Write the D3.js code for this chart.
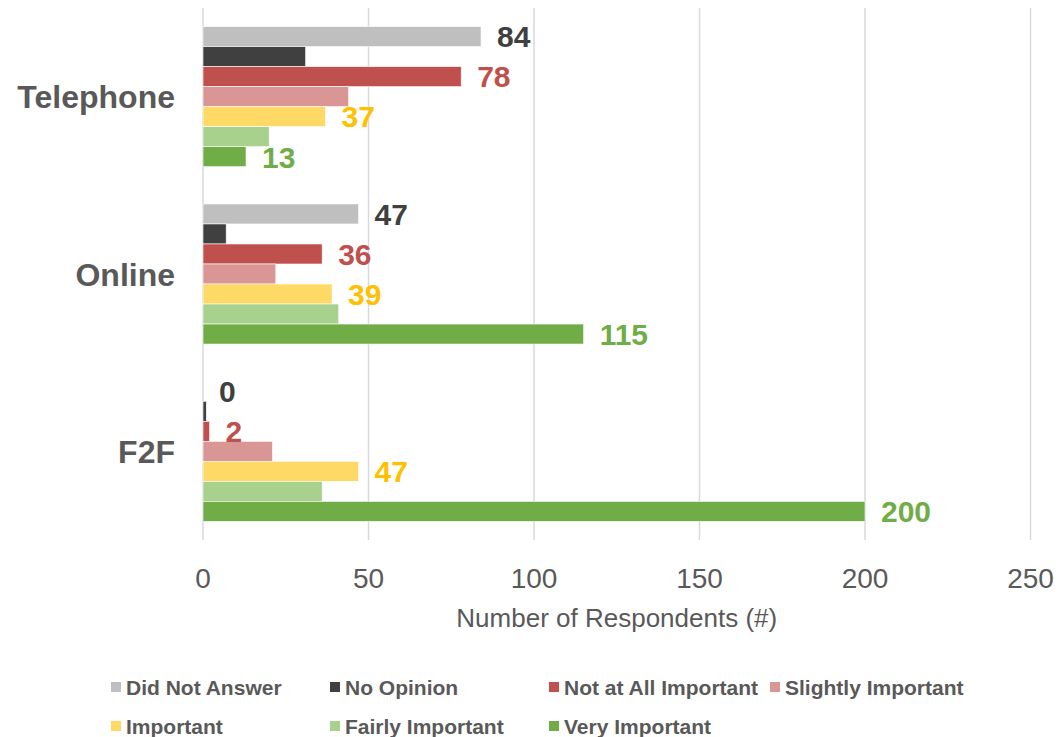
<!DOCTYPE html>
<html>
<head>
<meta charset="utf-8">
<script src="https://cdn.jsdelivr.net/npm/d3@7"></script>
<style>
  html, body { margin: 0; padding: 0; background: #fff; }
  svg { display: block; font-family: "Liberation Sans", Arial, sans-serif; }
</style>
</head>
<body>
<svg id="chart" width="1058" height="737"></svg>
<script>
// Delivery channels, top to bottom
const categories = ["Telephone", "Online", "F2F"];

// Importance rating series (legend order)
const seriesNames = [
  "Did Not Answer", "No Opinion", "Not at All Important", "Slightly Important",
  "Important", "Fairly Important", "Very Important"
];

// Respondent counts per channel (Telephone, Online, F2F)
const didNotAnswer = [84, 47, 0];
const noOpinion = [31, 7, 1];
const notAtAllImportant = [78, 36, 2];
const slightlyImportant = [44, 22, 21];
const important = [37, 39, 47];
const fairlyImportant = [20, 41, 36];
const veryImportant = [13, 115, 200];

const xTicks = [0, 50, 100, 150, 200, 250];

const seriesValues = [didNotAnswer, noOpinion, notAtAllImportant, slightlyImportant,
  important, fairlyImportant, veryImportant];
const barColors = ["#BFBFBF", "#404040", "#C0504D", "#D99694", "#FFD966", "#A9D18E", "#70AD47"];
const labelColors = ["#404040", null, "#C0504D", null, "#FFC000", null, "#70AD47"];

const svg = d3.select("#chart");
const plot = { left: 203, right: 1030.5, top: 8, bottom: 540 };

const x = d3.scaleLinear().domain([0, 250]).range([plot.left, plot.right]);
const y0 = d3.scaleBand().domain(categories).range([plot.top, plot.bottom])
  .paddingInner(0.21).paddingOuter(0.105);
const y1 = d3.scaleBand().domain(seriesNames).range([0, y0.bandwidth()]);

// Vertical gridlines
svg.append("g")
  .selectAll("line")
  .data(xTicks)
  .join("line")
  .attr("x1", d => x(d)).attr("x2", d => x(d))
  .attr("y1", plot.top).attr("y2", plot.bottom)
  .attr("stroke", "#D9D9D9")
  .attr("stroke-width", 1.5);

// Tick labels
svg.append("g")
  .selectAll("text")
  .data(xTicks)
  .join("text")
  .attr("x", d => x(d))
  .attr("y", 588)
  .attr("text-anchor", "middle")
  .attr("font-size", 28)
  .attr("fill", "#595959")
  .text(d => d);

// Axis title
svg.append("text")
  .attr("x", (x(0) + x(250)) / 2)
  .attr("y", 627)
  .attr("text-anchor", "middle")
  .attr("font-size", 26)
  .attr("fill", "#595959")
  .text("Number of Respondents (#)");

// Category labels
svg.append("g")
  .selectAll("text")
  .data(categories)
  .join("text")
  .attr("x", 175)
  .attr("y", d => y0(d) + y0.bandwidth() / 2)
  .attr("dy", "0.36em")
  .attr("text-anchor", "end")
  .attr("font-size", 32)
  .attr("font-weight", "bold")
  .attr("fill", "#595959")
  .text(d => d);

// Bars
const rows = [];
categories.forEach((c, ci) => {
  seriesNames.forEach((s, si) => {
    rows.push({ cat: c, series: s, si, value: seriesValues[si][ci] });
  });
});

svg.append("g")
  .selectAll("rect")
  .data(rows)
  .join("rect")
  .attr("x", x(0))
  .attr("y", d => y0(d.cat) + y1(d.series))
  .attr("width", d => x(d.value) - x(0))
  .attr("height", y1.bandwidth())
  .attr("fill", d => barColors[d.si])
  .attr("stroke", "#ffffff")
  .attr("stroke-width", 0.6);

// Value labels on selected series
svg.append("g")
  .selectAll("text")
  .data(rows.filter(d => labelColors[d.si]))
  .join("text")
  .attr("x", d => x(d.value) + 16)
  .attr("y", d => y0(d.cat) + y1(d.series) + y1.bandwidth() / 2)
  .attr("dy", "0.36em")
  .attr("font-size", 30)
  .attr("font-weight", "bold")
  .attr("fill", d => labelColors[d.si])
  .text(d => d.value);

// Legend
const legendPos = [
  [111, 687], [330, 687], [549, 687], [770, 687],
  [111, 726], [330, 726], [549, 726]
];
const legend = svg.append("g")
  .selectAll("g")
  .data(seriesNames)
  .join("g")
  .attr("transform", (d, i) => `translate(${legendPos[i][0]},${legendPos[i][1]})`);

legend.append("rect")
  .attr("x", 0).attr("y", -5)
  .attr("width", 10).attr("height", 10)
  .attr("fill", (d, i) => barColors[i]);

legend.append("text")
  .attr("x", 15)
  .attr("y", 0)
  .attr("dy", "0.36em")
  .attr("font-size", 21)
  .attr("font-weight", "bold")
  .attr("fill", "#595959")
  .text(d => d);
</script>
</body>
</html>
